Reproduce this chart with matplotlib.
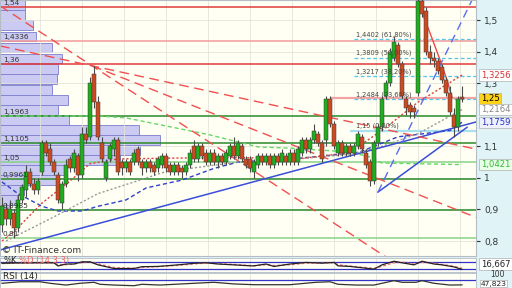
import matplotlib.pyplot as plt

# ---- candles (one entry per bar) ----
opens = [0.85, 0.90, 0.87, 0.89, 0.84, 0.93, 0.96, 1.02, 0.98, 0.96,
         1.02, 1.11, 1.09, 1.05, 1.01, 0.92, 0.98, 1.06, 1.03, 1.07,
         1.01, 1.14, 1.13, 1.33, 1.24, 1.11, 1.00, 1.06, 1.09, 1.12,
         1.05, 1.03, 1.05, 1.05, 1.09, 1.05, 1.03, 1.05, 1.04, 1.03,
         1.04, 1.07, 1.04, 1.02, 1.04, 1.03, 1.02, 1.04, 1.10, 1.06,
         1.10, 1.08, 1.05, 1.08, 1.05, 1.07, 1.05, 1.07, 1.10, 1.07,
         1.10, 1.06, 1.06, 1.02, 1.04, 1.07, 1.05, 1.07, 1.04, 1.07,
         1.05, 1.07, 1.05, 1.08, 1.05, 1.08, 1.12, 1.09, 1.12, 1.14,
         1.11, 1.12, 1.25, 1.17, 1.08, 1.11, 1.08, 1.10, 1.08, 1.10,
         1.13, 1.08, 1.05, 0.99, 1.11, 1.16, 1.26, 1.30, 1.38, 1.42,
         1.36, 1.25, 1.23, 1.22, 1.27, 1.56, 1.53, 1.40, 1.38, 1.37,
         1.35, 1.31, 1.27, 1.20, 1.16, 1.255]
highs = [0.94, 0.92, 0.93, 0.90, 0.95, 0.98, 1.04, 1.03, 1.00, 1.00,
         1.12, 1.12, 1.11, 1.06, 1.02, 0.99, 1.06, 1.07, 1.09, 1.08,
         1.16, 1.16, 1.32, 1.355, 1.26, 1.13, 1.06, 1.11, 1.13, 1.13,
         1.06, 1.06, 1.06, 1.09, 1.10, 1.06, 1.06, 1.06, 1.05, 1.07,
         1.08, 1.08, 1.05, 1.05, 1.05, 1.04, 1.05, 1.09, 1.12, 1.11,
         1.11, 1.09, 1.09, 1.09, 1.08, 1.08, 1.09, 1.11, 1.13, 1.12,
         1.11, 1.07, 1.07, 1.06, 1.08, 1.08, 1.08, 1.08, 1.08, 1.08,
         1.09, 1.08, 1.09, 1.09, 1.10, 1.13, 1.13, 1.13, 1.17, 1.15,
         1.12, 1.26, 1.26, 1.18, 1.12, 1.12, 1.11, 1.11, 1.11, 1.15,
         1.14, 1.09, 1.06, 1.12, 1.17, 1.26, 1.31, 1.41, 1.45, 1.43,
         1.37, 1.26, 1.24, 1.23, 1.57, 1.57, 1.54, 1.42, 1.40, 1.38,
         1.36, 1.32, 1.29, 1.22, 1.26, 1.29]
lows = [0.83, 0.85, 0.85, 0.81, 0.83, 0.92, 0.94, 0.97, 0.95, 0.95,
        1.01, 1.07, 1.04, 1.01, 0.92, 0.90, 0.97, 1.02, 1.02, 0.99,
        1.00, 1.11, 1.12, 1.22, 1.12, 1.05, 0.99, 1.05, 1.07, 1.01,
        1.01, 1.02, 1.01, 1.04, 1.04, 1.01, 1.02, 1.02, 1.01, 1.02,
        1.03, 1.02, 1.01, 1.01, 1.01, 1.00, 1.01, 1.03, 1.05, 1.05,
        1.06, 1.04, 1.04, 1.04, 1.03, 1.04, 1.04, 1.06, 1.06, 1.06,
        1.05, 1.03, 1.02, 1.00, 1.03, 1.04, 1.04, 1.03, 1.03, 1.04,
        1.04, 1.04, 1.04, 1.04, 1.04, 1.07, 1.08, 1.08, 1.11, 1.10,
        1.05, 1.10, 1.16, 1.09, 1.07, 1.07, 1.07, 1.07, 1.07, 1.09,
        1.08, 1.03, 0.975, 0.98, 1.10, 1.15, 1.25, 1.29, 1.37, 1.35,
        1.25, 1.20, 1.19, 1.19, 1.26, 1.51, 1.39, 1.36, 1.35, 1.33,
        1.30, 1.26, 1.20, 1.13, 1.15, 1.24]
closes = [0.91, 0.87, 0.90, 0.84, 0.93, 0.97, 1.02, 0.98, 0.96, 0.99,
          1.11, 1.08, 1.05, 1.02, 0.93, 0.98, 1.04, 1.03, 1.08, 1.01,
          1.14, 1.12, 1.30, 1.24, 1.13, 1.06, 1.05, 1.10, 1.12, 1.02,
          1.03, 1.05, 1.02, 1.08, 1.05, 1.03, 1.05, 1.03, 1.02, 1.06,
          1.07, 1.03, 1.02, 1.04, 1.02, 1.02, 1.04, 1.08, 1.06, 1.10,
          1.07, 1.05, 1.08, 1.05, 1.07, 1.05, 1.08, 1.10, 1.07, 1.11,
          1.06, 1.04, 1.03, 1.05, 1.07, 1.05, 1.07, 1.04, 1.07, 1.05,
          1.08, 1.05, 1.08, 1.05, 1.09, 1.12, 1.09, 1.12, 1.15, 1.11,
          1.06, 1.25, 1.17, 1.10, 1.11, 1.08, 1.10, 1.08, 1.10, 1.14,
          1.09, 1.04, 0.99, 1.11, 1.16, 1.25, 1.30, 1.40, 1.43, 1.36,
          1.26, 1.22, 1.21, 1.21, 1.56, 1.52, 1.40, 1.38, 1.37, 1.34,
          1.31, 1.27, 1.21, 1.16, 1.25, 1.25]

# ---- moving averages (bar index, value) ----
ma_green_x = [0, 24, 31, 40, 52, 64, 72, 87, 92, 95, 115]
ma_green = [1.196, 1.196, 1.19, 1.167, 1.136, 1.098, 1.094, 1.082, 1.066, 1.047, 1.042]
ma_blue_x = [0, 4, 10, 14, 20, 24, 31, 36, 45, 53, 59, 75, 89, 99, 112, 115]
ma_blue = [0.987, 0.95, 0.91, 0.895, 0.895, 0.91, 0.93, 0.968, 0.993, 1.03, 1.05,
           1.063, 1.08, 1.13, 1.15, 1.176]
ma_red_x = [0, 3, 10, 17, 22, 29, 40, 57, 74, 87, 96, 104, 115]
ma_red = [0.80, 0.83, 0.92, 0.99, 1.045, 1.06, 1.062, 1.065, 1.06, 1.08, 1.16, 1.24, 1.3256]
ma_gray_x = [1, 12, 24, 41, 59, 74, 87, 95, 104, 115]
ma_gray = [0.80, 0.87, 0.95, 1.02, 1.05, 1.06, 1.075, 1.10, 1.14, 1.2164]

# ---- volume profile (price bin, volume) ----
vp_price = [1.5475, 1.516, 1.483, 1.448, 1.413, 1.378, 1.345, 1.312, 1.278, 1.247,
            1.215, 1.183, 1.152, 1.12, 1.088, 1.057, 1.025, 0.993, 0.962, 0.930, 0.898]
vp_volume = [25, 25, 33, 36, 52, 62, 58, 57, 52, 68, 58, 69, 139, 160, 140, 120,
             65, 57, 24, 17, 10]

# ---- horizontal levels ----
level_values = [1.54, 1.4336, 1.36, 1.1963, 1.1105, 1.05, 0.9961, 0.8985, 0.81]
level_labels = ["1,54", "1,4336", "1,36", "1,1963", "1,1105", "1,05", "0,9961", "0,8985", "0,81"]
level_colors = ["#e23a3a", "#f29a9a", "#e23a3a", "#2a8a2a", "#2a8a2a", "#86d486",
                "#2a8a2a", "#2a8a2a", "#86d486"]

fib_values = [1.4402, 1.3809, 1.3217, 1.2484, 1.15]
fib_labels = ["1,4402 (61,80%)", "1,3809 (50,00%)", "1,3217 (38,20%)",
              "1,2484 (23,60%)", "1,15 (0,00%)"]
fib_start = 88

# ---- trend lines (bar index, price) ----
trend_blue_x = [-0.5, 118.5]
trend_blue = [0.7715, 1.177]
fan_x = [-0.5, 22.5, 118.5]
fan_a = [1.545, 1.355, 0.564]
fan_b_x = [22.5, 118.5]
fan_b = [1.355, 0.875]
fan_c = [1.418, 1.355, 1.091]
tri_x = [94, 116.25]
tri_solid = [0.955, 1.16]
steep_x = [94, 117.5]
steep = [0.955, 1.563]
curve_x = [103.75, 107, 109.5, 111.25, 112.5]
curve = [1.565, 1.459, 1.374, 1.31, 1.256]

# ---- oscillators ----
stoch_x = [0, 4, 9, 13, 14, 16, 18, 20, 22, 24, 28, 33, 35, 39, 44, 48, 51, 54, 58, 62,
           63, 66, 68, 72, 76, 80, 83, 84, 87, 93, 95, 98, 100, 103, 105, 108, 110, 113, 115]
stoch_k = [67, 70, 71, 71, 45, 61, 61, 79, 79, 54, 24, 24, 39, 41, 54, 67, 71, 61, 54, 46,
           46, 61, 41, 61, 74, 68, 74, 46, 41, 19, 54, 84, 71, 54, 84, 61, 54, 37, 17]
stoch_d = [65, 68, 70, 71, 55, 55, 62, 72, 78, 62, 32, 26, 33, 40, 50, 62, 69, 64, 57, 49,
           47, 55, 48, 55, 68, 70, 72, 55, 44, 25, 42, 72, 76, 60, 75, 68, 57, 43, 25]
rsi_x = [0, 4.5, 9.5, 12, 16, 19.5, 23, 24.5, 28, 33, 35, 39.5, 48, 53, 58, 63, 72, 78.5,
         82, 84, 88.5, 93, 98, 100, 103.5, 105, 108, 112, 115]
rsi = [55, 62, 62, 55, 47, 55, 59.5, 50.5, 47, 44, 50.5, 47, 55, 59.5, 52, 48.6, 48.6,
       59.5, 62, 50.5, 47, 47, 67, 59.5, 59.5, 67, 55, 47, 47.8]

cream = "#fffff4"
edge = "#b4bcc6"
grid_x = [9.5, 20, 30.5, 41, 51.5, 62, 72.5, 83, 93.5, 104, 114.5]
fig = plt.figure(figsize=(5.12, 2.88), dpi=100, facecolor="#e0f3f6")

#%% main price panel
ax = fig.add_axes([0, 32 / 288, 476 / 512, 256 / 288], facecolor=cream)
ax.set_xlim(-0.5, 118.5)
ax.set_ylim(0.7525, 1.5634)

ax.set_xticks(grid_x)
ax.set_yticks([0.8, 0.9, 1.0, 1.1, 1.3, 1.4, 1.5])
ax.set_yticklabels(["0,8", "0,9", "1", "1,1", "1,3", "1,4", "1,5"])
ax.yaxis.tick_right()
ax.tick_params(axis="y", labelsize=6.5, length=3, pad=3, colors="#333333")
ax.tick_params(axis="x", length=0, labelbottom=False)
ax.grid(color="#e4e4da", lw=0.6, zorder=0)
for s in ax.spines.values():
    s.set_color(edge)
    s.set_linewidth(0.8)

ax.barh(vp_price, [v / 4 for v in vp_volume], height=0.031, left=-0.5,
        color="#c6c6f2", edgecolor="#8282d0", lw=0.7, alpha=0.92, zorder=1)

for val, col in zip(level_values, level_colors):
    ax.axhline(val, color=col, lw=1.1, zorder=2)
for val, lab in zip(level_values, level_labels):
    ax.text(0.2, val + 0.004, lab, fontsize=5.3, color="#333333", va="bottom", zorder=6)

ax.hlines(1.2535, 82, 118.5, color="#f4a4a4", lw=1.6, zorder=2)
for val, lab in zip(fib_values, fib_labels):
    if val == 1.15:
        ax.hlines(val, fib_start - 1, 118.5, color="#a8e0f0", lw=1.6, zorder=2)
    else:
        ax.hlines(val, fib_start, 118.5, color="#55c5ec", lw=0.9, ls=(0, (3, 2)), zorder=2)
    ax.text(fib_start + 0.5, val + 0.004, lab, fontsize=4.8, color="#444444",
            va="bottom", zorder=6)

ax.plot(ma_green_x, ma_green, color="#66d866", lw=1.0, ls=(0, (3, 2)), zorder=2.5)
ax.plot(ma_blue_x, ma_blue, color="#3040c8", lw=1.0, ls=(0, (3, 2)), zorder=2.5)
ax.plot(ma_red_x, ma_red, color="#dd4040", lw=1.0, ls=(0, (1.5, 1.5)), zorder=2.5)
ax.plot(ma_gray_x, ma_gray, color="#999999", lw=1.0, ls=(0, (1.5, 1.5)), zorder=2.5)

ax.plot(trend_blue_x, trend_blue, color="#3a4ed8", lw=1.1, zorder=2.5)
ax.plot(fan_x, fan_a, color="#f05050", lw=1.0, ls=(0, (7, 4)), zorder=2.5)
ax.plot(fan_b_x, fan_b, color="#f05050", lw=1.0, ls=(0, (7, 4)), zorder=2.5)
ax.plot(fan_x, fan_c, color="#f05050", lw=1.0, ls=(0, (7, 4)), zorder=2.5)
ax.plot(tri_x, tri_solid, color="#3a4ed8", lw=1.1, zorder=2.5)
ax.plot(steep_x, steep, color="#5a6cf0", lw=1.0, ls=(0, (6, 4)), zorder=2.5)
ax.plot(curve_x, curve, color="#f04848", lw=1.0, zorder=2.5)

# candles
idx = list(range(len(closes)))
up = [c >= o for o, c in zip(opens, closes)]
body_lo = [min(o, c) for o, c in zip(opens, closes)]
body_h = [max(abs(c - o), 0.003) for o, c in zip(opens, closes)]
ax.vlines(idx, lows, highs, color="#4a4a4a", lw=0.8, zorder=3)
ax.bar(idx, body_h, bottom=body_lo, width=0.8,
       color=["#1fae1f" if u else "#cc4a22" for u in up],
       edgecolor="#3a3a3a", lw=0.35, zorder=3.5)

ax.text(0.004, 0.012, "\u00a9 IT-Finance.com", transform=ax.transAxes,
        fontsize=6.5, color="#333333", zorder=6)

# price tags on the right
trans = ax.get_yaxis_transform()
tags = [(1.3256, "1,3256", "white", "#d83030"),
        (1.25, "1,25", "#ffd21a", "#000000"),
        (1.2164, "1,2164", "white", "#888888"),
        (1.1759, "1,1759", "#eef0ff", "#2233bb"),
        (1.0421, "1,0421", "#e8ffe8", "#33bb33")]
for val, txt, fc, tc in tags:
    ax.text(1.01, val, txt, transform=trans, fontsize=6.1, color=tc, va="center",
            ha="left", clip_on=False, zorder=7,
            bbox=dict(boxstyle="square,pad=0.15", fc=fc, ec="#b0b0b0", lw=0.5))

#%% stochastic panel
ax2 = fig.add_axes([0, 16.3 / 288, 476 / 512, 14.2 / 288], facecolor=cream)
ax2.set_xlim(-0.5, 118.5)
ax2.set_ylim(-2.2, 114.5)
ax2.set_xticks(grid_x)
ax2.set_yticks([])
ax2.tick_params(axis="x", length=0, labelbottom=False)
ax2.grid(axis="x", color="#e4e4da", lw=0.6)
for s in ax2.spines.values():
    s.set_color(edge)
    s.set_linewidth(0.6)
ax2.axhline(80, color="#3333cc", lw=0.9)
ax2.axhline(20, color="#3333cc", lw=0.9)
ax2.plot(stoch_x, stoch_d, color="#f07070", lw=1.0, ls=(0, (2, 1.5)))
ax2.plot(stoch_x, stoch_k, color="#222222", lw=0.9)
ax2.text(0.3, 88, "%K", fontsize=6, color="#222222", va="center")
ax2.text(4.2, 88, "%D (14 3 3)", fontsize=6, color="#f06060", va="center")
ax2.text(1.01, 0.54, "16,667", transform=ax2.transAxes, fontsize=6.1,
         color="#222222", va="center", clip_on=False,
         bbox=dict(boxstyle="square,pad=0.15", fc="white", ec="#b0b0b0", lw=0.5))

#%% RSI panel
ax3 = fig.add_axes([0, 0, 476 / 512, 15.5 / 288], facecolor=cream)
ax3.set_xlim(-0.5, 118.5)
ax3.set_ylim(33.6, 104)
ax3.set_xticks(grid_x)
ax3.set_yticks([])
ax3.tick_params(axis="x", length=0, labelbottom=False)
ax3.grid(axis="x", color="#e4e4da", lw=0.6)
for s in ax3.spines.values():
    s.set_color(edge)
    s.set_linewidth(0.6)
ax3.axhline(70, color="#3333cc", lw=0.9)
ax3.plot(rsi_x, rsi, color="#333333", lw=0.9)
ax3.text(0.3, 88, "RSI (14)", fontsize=6.3, color="#222222", va="center")
ax3.text(1.03, 0.86, "100", transform=ax3.transAxes, fontsize=5.5,
         color="#333333", va="center", clip_on=False)
ax3.text(1.01, 0.29, "47,823", transform=ax3.transAxes, fontsize=5.4,
         color="#222222", va="center", clip_on=False,
         bbox=dict(boxstyle="square,pad=0.1", fc="white", ec="#b0b0b0", lw=0.5))

plt.savefig("out.png", dpi=100, facecolor=fig.get_facecolor())
